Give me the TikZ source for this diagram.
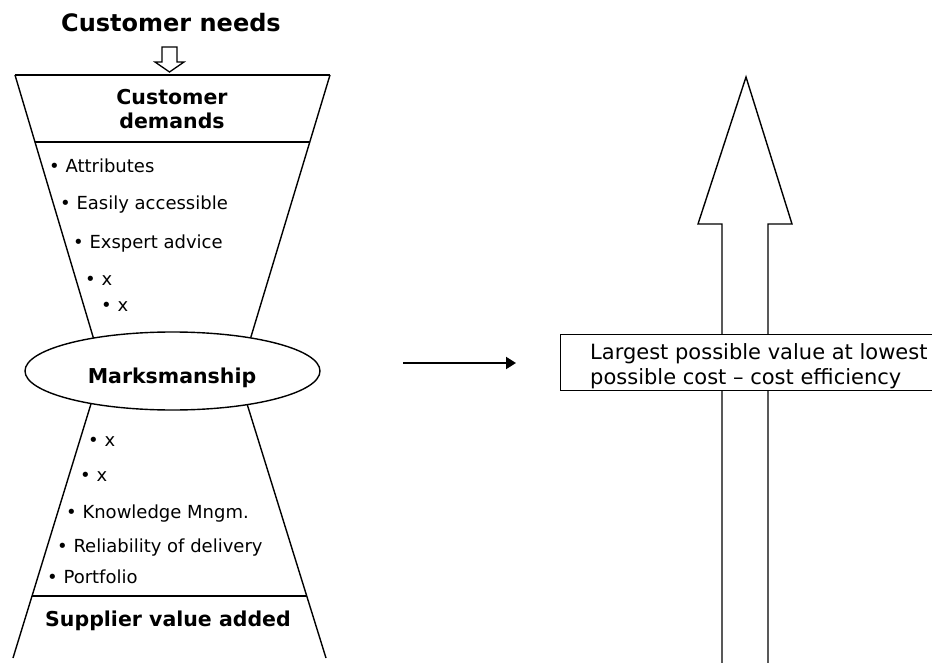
\documentclass[tikz,border=0pt]{standalone}
\usepackage{fontspec}
\setmainfont{DejaVu Sans}
\usetikzlibrary{arrows.meta,shapes.geometric}
\begin{document}
\begin{tikzpicture}[x=1pt,y=-1pt,
  edge/.style={line width=1.4pt, line join=miter},
  bigtitle/.style={font=\bfseries\fontsize{24}{28}\selectfont, inner sep=0},
  title/.style={font=\bfseries\fontsize{20.5}{23.5}\selectfont, align=center, inner sep=0},
  item/.style={font=\fontsize{18}{22}\selectfont, anchor=base west, inner sep=0},
  boxtext/.style={font=\fontsize{21}{25}\selectfont, align=left, inner sep=0, anchor=west},
  flow/.style={line width=2pt, -{Triangle[length=10pt,width=12pt]}}]
\useasboundingbox (0,0) rectangle (932,663);
\clip (0,0) rectangle (932,663);

% ---------- funnel ----------
\node[bigtitle, anchor=base] (needs) at (171,32) {Customer needs};
\draw[line width=1.3pt] (162,47) -- (177,47) -- (177,62) -- (184,62) -- (169.5,72) -- (155,62) -- (162,62) -- cycle;

\draw[edge] (15,75) -- (330,75);
\draw[edge] (15,75) -- (95.5,345);
\draw[edge] (330,75) -- (248.5,345);
\draw[edge] (35,142) -- (310,142);
\node[title] (demands) at (172,109) {Customer\\demands};

\node[item] (i1) at (49,172.5) {• Attributes};
\node[item] (i2) at (60,210) {• Easily accessible};
\node[item] (i3) at (73,248) {• Exspert advice};
\node[item] (i4) at (85,285) {• x};
\node[item] (i5) at (101,312) {• x};

\draw[edge] (92.8,398) -- (13,658);
\draw[edge] (245.2,398) -- (326,658);
\draw[edge] (31.5,596) -- (306.5,596);

\node[ellipse, draw, line width=1.4pt, fill=white, minimum width=295, minimum height=78, inner sep=0] (mk) at (172.5,371) {};
\node[title, anchor=base] (mktext) at (172,383) {Marksmanship};

\node[item] (j1) at (88,446) {• x};
\node[item] (j2) at (80,481) {• x};
\node[item] (j3) at (66,518) {• Knowledge Mngm.};
\node[item] (j4) at (57,552) {• Reliability of delivery};
\node[item] (j5) at (47,583) {• Portfolio};

\node[title, anchor=base] (supplier) at (168,626) {Supplier value added};

% ---------- middle arrow ----------
\coordinate (a1) at (403,363);
\coordinate (a2) at (516,363);
\draw[flow] (a1) -- (a2);

% ---------- big arrow ----------
\draw[edge] (722,663) -- (722,224) -- (698,224) -- (746,77) -- (792,224) -- (768,224) -- (768,663);
\node[draw, line width=1.4pt, fill=white, anchor=north west, minimum width=400, minimum height=56, inner sep=0] (goal) at (560,334) {};
\node[boxtext] (goaltext) at (590,366.3) {Largest possible value at lowest\\possible cost -- cost efficiency};
\end{tikzpicture}
\end{document}
